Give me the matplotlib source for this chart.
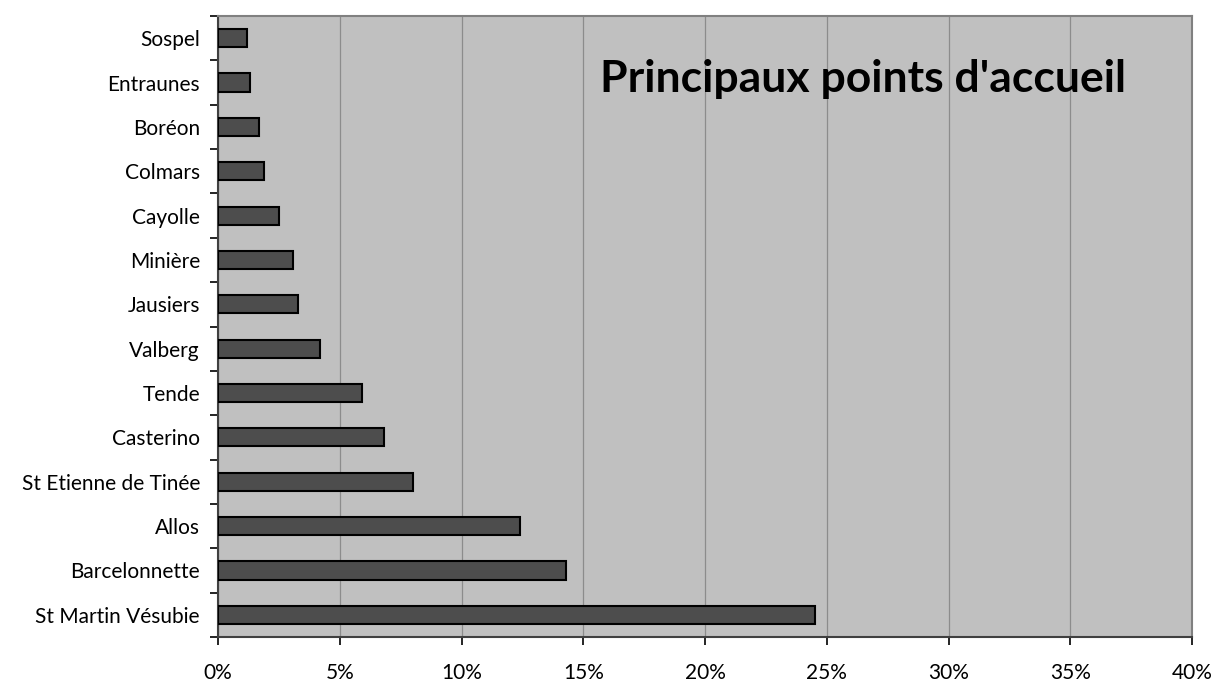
import matplotlib
matplotlib.use("Agg")
import matplotlib.pyplot as plt
import numpy as np
from matplotlib.ticker import FixedLocator, PercentFormatter

categories = ["St Martin Vésubie", "Barcelonnette", "Allos", "St Etienne de Tinée",
              "Casterino", "Tende", "Valberg", "Jausiers", "Minière", "Cayolle",
              "Colmars", "Boréon", "Entraunes", "Sospel"]
values = [24.5, 14.3, 12.4, 8.0, 6.8, 5.9, 4.2, 3.3, 3.1, 2.5, 1.9, 1.7, 1.3, 1.2]
xticks = [0, 5, 10, 15, 20, 25, 30, 35, 40]
title = "Principaux points d'accueil"

plt.rcParams['font.family'] = ['Lato', 'DejaVu Sans']

fig = plt.figure(figsize=(12.12, 6.84), dpi=100)
ax = fig.add_axes([218/1212, 1-637/684, (1192-218)/1212, (637-16)/684])
ax.set_facecolor('#c0c0c0')

y = np.arange(len(categories))
ax.barh(y, values, height=0.41, color='#4d4d4d', edgecolor='black', linewidth=1.5, zorder=3)

ax.set_xlim(0, 40)
ax.set_ylim(-0.5, len(categories) - 0.5)
ax.set_xticks(xticks)
ax.xaxis.set_major_formatter(PercentFormatter(decimals=0))
ax.grid(axis='x', color='#8c8c8c', linewidth=0.9, zorder=1)
ax.set_axisbelow(True)

ax.set_yticks(y)
ax.set_yticklabels(categories)
ax.yaxis.set_minor_locator(FixedLocator(np.arange(-0.5, len(categories), 1)))
ax.tick_params(axis='y', which='major', length=0, pad=13, labelsize=15)
ax.tick_params(axis='y', which='minor', length=6, width=1.2, direction='out', color='black')
ax.tick_params(axis='x', which='major', length=6, width=1.2, direction='out', pad=13, labelsize=15)

for s in ['top', 'right']:
    ax.spines[s].set_color('#808080')
    ax.spines[s].set_linewidth(1.5)
for s in ['left', 'bottom']:
    ax.spines[s].set_color('#404040')
    ax.spines[s].set_linewidth(1.5)

ax.text(0.392, 0.899, title, transform=ax.transAxes, ha='left', va='center',
        fontsize=32, fontweight='bold', color='black', zorder=5)

fig.savefig('out.png', dpi=100)
